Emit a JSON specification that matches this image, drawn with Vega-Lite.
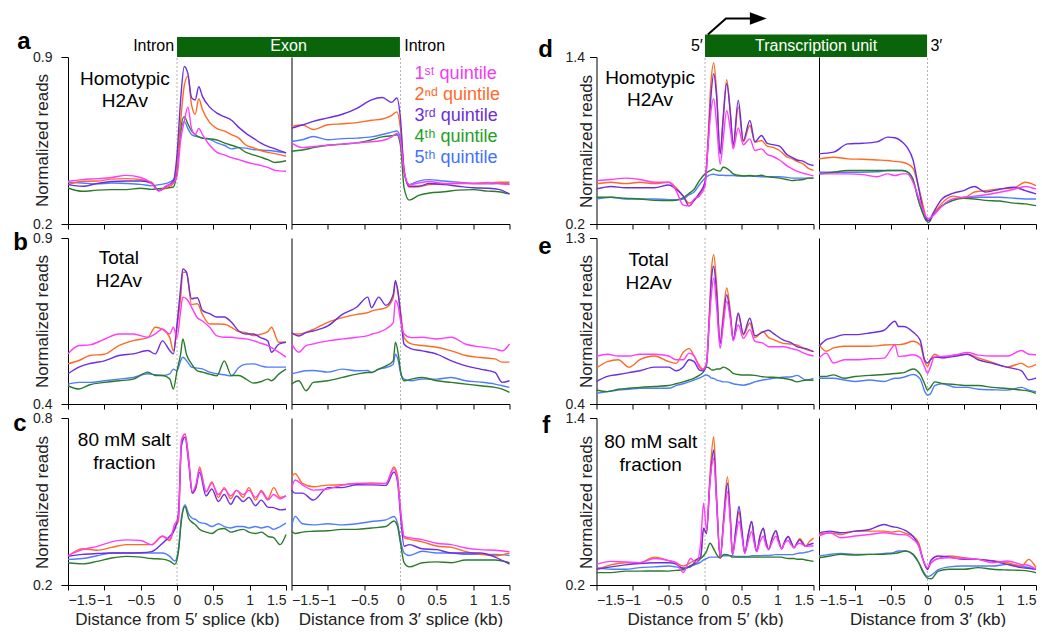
{
"$schema":"https://vega.github.io/schema/vega-lite/v6.json",
"background":"white",
"autosize":{"type":"pad"},
"padding":{"left":13,"top":12,"right":0,"bottom":0},
"config":{"view":{"stroke":null},"font":"Liberation Sans","axis":{"domainColor":"#000","tickColor":"#000","labelColor":"#222","titleColor":"#222","labelFontSize":14,"titleFontSize":17,"titleFontWeight":"normal","grid":false}},
"bounds":"flush","align":"each","columns":5,"spacing":{"row":14,"column":5.5},
"concat":[
{"width":218,"height":167,
"encoding":{"x":{"field":"x","type":"quantitative","scale":{"domain":[-1.5,1.5],"nice":false,"zero":false},"axis":{"values":[-1.5,-1,-0.5,0,0.5,1,1.5],"labels":false,"title":null,"tickSize":5}},
"y":{"field":"y","type":"quantitative","scale":{"domain":[0.2,0.9],"nice":false,"zero":false},"axis":{"values":[0.2,0.9],"format":".1f","tickSize":7,"labelPadding":9,"title":"Normalized reads","titleX":-26,"titleY":83,"titleAngle":-90,"titleBaseline":"middle","titleAlign":"center"}}},
"layer":[
{"data":{"values":[{"x":0,"y":0.2,"y2":0.9}]},"mark":{"type":"rule","color":"#b4b4b4","strokeDash":[2,2],"strokeWidth":1},"encoding":{"y2":{"field":"y2"}}},
{"data":{"name":"aL"},"transform":[{"fold":["b","g","o","p","m"],"as":["q","y"]}],"mark":{"type":"line","strokeWidth":1.4,"interpolate":"monotone"},"encoding":{"color":{"field":"q","type":"nominal","scale":{"domain":["m","o","p","g","b","m2","o2","p2","g2","b2"],"range":["#FF3CFF","#FF6A22","#6C2EE0","#2B7B2B","#4F7DFF","#F23CF2","#FF6A2A","#6A30D8","#22A022","#3F70FF"]},"legend":null}}},
{"data":{"values":[{"x":0,"x2":3.068,"y":0.9,"y2":0.984}]},"mark":{"type":"rect","color":"#0A650A","clip":false},"encoding":{"x2":{"field":"x2"},"y2":{"field":"y2"}}},
{"data":{"values":[{"x":1.535,"y":0.925,"t":"Exon"}]},"mark":{"type":"text","color":"white","fontSize":16,"align":"center","baseline":"alphabetic","clip":false},"encoding":{"text":{"field":"t"}}},
{"data":{"values":[{"x":-0.04,"y":0.925,"t":"Intron"}]},"mark":{"type":"text","color":"black","fontSize":16,"align":"right","baseline":"alphabetic","clip":false},"encoding":{"text":{"field":"t"}}},
{"data":{"values":[{"x":3.127,"y":0.925,"t":"Intron"}]},"mark":{"type":"text","color":"black","fontSize":16,"align":"left","baseline":"alphabetic","clip":false},"encoding":{"text":{"field":"t"}}},
{"data":{"values":[{"x":-2.197,"y":0.932,"t":"a"}]},"mark":{"type":"text","color":"black","fontSize":24,"fontWeight":"bold","align":"left","baseline":"alphabetic","clip":false},"encoding":{"text":{"field":"t"}}},
{"data":{"values":[{"x":-0.718,"y":0.784,"t":"Homotypic\nH2Av"}]},"mark":{"type":"text","color":"black","fontSize":19,"align":"center","baseline":"alphabetic","lineBreak":"\n","lineHeight":22,"clip":false},"encoding":{"text":{"field":"t"}}}
]},
{"width":218,"height":167,
"encoding":{"x":{"field":"x","type":"quantitative","scale":{"domain":[-1.5,1.5],"nice":false,"zero":false},"axis":{"values":[-1.5,-1,-0.5,0,0.5,1,1.5],"labels":false,"title":null,"tickSize":5}},
"y":{"field":"y","type":"quantitative","scale":{"domain":[0.2,0.9],"nice":false,"zero":false},"axis":{"labels":false,"ticks":false,"title":null}}},
"layer":[
{"data":{"values":[{"x":0,"y":0.2,"y2":0.9}]},"mark":{"type":"rule","color":"#b4b4b4","strokeDash":[2,2],"strokeWidth":1},"encoding":{"y2":{"field":"y2"}}},
{"data":{"name":"aR"},"transform":[{"fold":["b","g","o","p","m"],"as":["q","y"]}],"mark":{"type":"line","strokeWidth":1.4,"interpolate":"monotone"},"encoding":{"color":{"field":"q","type":"nominal","scale":{"domain":["m","o","p","g","b","m2","o2","p2","g2","b2"],"range":["#FF3CFF","#FF6A22","#6C2EE0","#2B7B2B","#4F7DFF","#F23CF2","#FF6A2A","#6A30D8","#22A022","#3F70FF"]},"legend":null}}},
{"data":{"values":[{"x":0.193,"y":0.809,"t":"1ˢᵗ quintile","q":"m2"},{"x":0.193,"y":0.721,"t":"2ⁿᵈ quintile","q":"o2"},{"x":0.193,"y":0.63,"t":"3ʳᵈ quintile","q":"p2"},{"x":0.193,"y":0.544,"t":"4ᵗʰ quintile","q":"g2"},{"x":0.193,"y":0.456,"t":"5ᵗʰ quintile","q":"b2"}]},"mark":{"type":"text","fontSize":18,"align":"left","baseline":"alphabetic","clip":false},"encoding":{"text":{"field":"t"},"color":{"field":"q","type":"nominal","scale":{"domain":["m","o","p","g","b","m2","o2","p2","g2","b2"],"range":["#FF3CFF","#FF6A22","#6C2EE0","#2B7B2B","#4F7DFF","#F23CF2","#FF6A2A","#6A30D8","#22A022","#3F70FF"]},"legend":null}}}
]},
{"width":75.8,"height":10,"data":{"values":[{"x":0}]},"mark":{"type":"point","opacity":0},"encoding":{"x":{"field":"x","type":"quantitative","axis":null}}},
{"width":217,"height":167,
"encoding":{"x":{"field":"x","type":"quantitative","scale":{"domain":[-1.5,1.5],"nice":false,"zero":false},"axis":{"values":[-1.5,-1,-0.5,0,0.5,1,1.5],"labels":false,"title":null,"tickSize":5}},
"y":{"field":"y","type":"quantitative","scale":{"domain":[0.2,1.4],"nice":false,"zero":false},"axis":{"values":[0.2,1.4],"format":".1f","tickSize":7,"labelPadding":5,"title":"Normalized reads","titleX":-10.5,"titleY":84,"titleAngle":-90,"titleBaseline":"middle","titleAlign":"center"}}},
"layer":[
{"data":{"values":[{"x":0,"y":0.2,"y2":1.4}]},"mark":{"type":"rule","color":"#b4b4b4","strokeDash":[2,2],"strokeWidth":1},"encoding":{"y2":{"field":"y2"}}},
{"data":{"name":"dL"},"transform":[{"fold":["b","g","o","p","m"],"as":["q","y"]}],"mark":{"type":"line","strokeWidth":1.4,"interpolate":"monotone"},"encoding":{"color":{"field":"q","type":"nominal","scale":{"domain":["m","o","p","g","b","m2","o2","p2","g2","b2"],"range":["#FF3CFF","#FF6A22","#6C2EE0","#2B7B2B","#4F7DFF","#F23CF2","#FF6A2A","#6A30D8","#22A022","#3F70FF"]},"legend":null}}},
{"data":{"values":[{"x":0,"x2":3.07,"y":1.4,"y2":1.561}]},"mark":{"type":"rect","color":"#0A650A","clip":false},"encoding":{"x2":{"field":"x2"},"y2":{"field":"y2"}}},
{"data":{"values":[{"x":1.535,"y":1.445,"t":"Transcription unit"}]},"mark":{"type":"text","color":"white","fontSize":16,"align":"center","baseline":"alphabetic","clip":false},"encoding":{"text":{"field":"t"}}},
{"data":{"values":[{"x":-0.03,"y":1.445,"t":"5′"}]},"mark":{"type":"text","color":"black","fontSize":16,"align":"right","baseline":"alphabetic","clip":false},"encoding":{"text":{"field":"t"}}},
{"data":{"values":[{"x":3.117,"y":1.445,"t":"3′"}]},"mark":{"type":"text","color":"black","fontSize":16,"align":"left","baseline":"alphabetic","clip":false},"encoding":{"text":{"field":"t"}}},
{"data":{"values":[{"x":0.04,"y":1.561,"o":1},{"x":0.29,"y":1.677,"o":2},{"x":0.63,"y":1.677,"o":3}]},"mark":{"type":"line","color":"black","strokeWidth":2,"clip":false},"encoding":{"order":{"field":"o","type":"quantitative"}}},
{"data":{"values":[{"x":0.736,"y":1.677}]},"mark":{"type":"point","shape":"M-1,-0.74L1,0L-1,0.74Z","size":279,"filled":true,"color":"black","opacity":1,"clip":false},"encoding":{}},
{"data":{"values":[{"x":-2.307,"y":1.398,"t":"d"}]},"mark":{"type":"text","color":"black","fontSize":24,"fontWeight":"bold","align":"left","baseline":"alphabetic","clip":false},"encoding":{"text":{"field":"t"}}},
{"data":{"values":[{"x":-0.76,"y":1.208,"t":"Homotypic\nH2Av"}]},"mark":{"type":"text","color":"black","fontSize":19,"align":"center","baseline":"alphabetic","lineBreak":"\n","lineHeight":22,"clip":false},"encoding":{"text":{"field":"t"}}}
]},
{"width":217,"height":167,
"encoding":{"x":{"field":"x","type":"quantitative","scale":{"domain":[-1.5,1.5],"nice":false,"zero":false},"axis":{"values":[-1.5,-1,-0.5,0,0.5,1,1.5],"labels":false,"title":null,"tickSize":5}},
"y":{"field":"y","type":"quantitative","scale":{"domain":[0.2,1.4],"nice":false,"zero":false},"axis":{"labels":false,"ticks":false,"title":null}}},
"layer":[
{"data":{"values":[{"x":0,"y":0.2,"y2":1.4}]},"mark":{"type":"rule","color":"#b4b4b4","strokeDash":[2,2],"strokeWidth":1},"encoding":{"y2":{"field":"y2"}}},
{"data":{"name":"dR"},"transform":[{"fold":["b","g","o","p","m"],"as":["q","y"]}],"mark":{"type":"line","strokeWidth":1.4,"interpolate":"monotone"},"encoding":{"color":{"field":"q","type":"nominal","scale":{"domain":["m","o","p","g","b","m2","o2","p2","g2","b2"],"range":["#FF3CFF","#FF6A22","#6C2EE0","#2B7B2B","#4F7DFF","#F23CF2","#FF6A2A","#6A30D8","#22A022","#3F70FF"]},"legend":null}}}
]},
{"width":218,"height":166,
"encoding":{"x":{"field":"x","type":"quantitative","scale":{"domain":[-1.5,1.5],"nice":false,"zero":false},"axis":{"values":[-1.5,-1,-0.5,0,0.5,1,1.5],"labels":false,"title":null,"tickSize":5}},
"y":{"field":"y","type":"quantitative","scale":{"domain":[0.4,0.9],"nice":false,"zero":false},"axis":{"values":[0.4,0.9],"format":".1f","tickSize":7,"labelPadding":9,"title":"Normalized reads","titleX":-26,"titleY":83,"titleAngle":-90,"titleBaseline":"middle","titleAlign":"center"}}},
"layer":[
{"data":{"values":[{"x":0,"y":0.4,"y2":0.9}]},"mark":{"type":"rule","color":"#b4b4b4","strokeDash":[2,2],"strokeWidth":1},"encoding":{"y2":{"field":"y2"}}},
{"data":{"name":"bL"},"transform":[{"fold":["b","g","o","p","m"],"as":["q","y"]}],"mark":{"type":"line","strokeWidth":1.4,"interpolate":"monotone"},"encoding":{"color":{"field":"q","type":"nominal","scale":{"domain":["m","o","p","g","b","m2","o2","p2","g2","b2"],"range":["#FF3CFF","#FF6A22","#6C2EE0","#2B7B2B","#4F7DFF","#F23CF2","#FF6A2A","#6A30D8","#22A022","#3F70FF"]},"legend":null}}},
{"data":{"values":[{"x":-2.252,"y":0.864,"t":"b"}]},"mark":{"type":"text","color":"black","fontSize":24,"fontWeight":"bold","align":"left","baseline":"alphabetic","clip":false},"encoding":{"text":{"field":"t"}}},
{"data":{"values":[{"x":-0.8,"y":0.821,"t":"Total\nH2Av"}]},"mark":{"type":"text","color":"black","fontSize":19,"align":"center","baseline":"alphabetic","lineBreak":"\n","lineHeight":23,"clip":false},"encoding":{"text":{"field":"t"}}}
]},
{"width":218,"height":166,
"encoding":{"x":{"field":"x","type":"quantitative","scale":{"domain":[-1.5,1.5],"nice":false,"zero":false},"axis":{"values":[-1.5,-1,-0.5,0,0.5,1,1.5],"labels":false,"title":null,"tickSize":5}},
"y":{"field":"y","type":"quantitative","scale":{"domain":[0.4,0.9],"nice":false,"zero":false},"axis":{"labels":false,"ticks":false,"title":null}}},
"layer":[
{"data":{"values":[{"x":0,"y":0.4,"y2":0.9}]},"mark":{"type":"rule","color":"#b4b4b4","strokeDash":[2,2],"strokeWidth":1},"encoding":{"y2":{"field":"y2"}}},
{"data":{"name":"bR"},"transform":[{"fold":["b","g","o","p","m"],"as":["q","y"]}],"mark":{"type":"line","strokeWidth":1.4,"interpolate":"monotone"},"encoding":{"color":{"field":"q","type":"nominal","scale":{"domain":["m","o","p","g","b","m2","o2","p2","g2","b2"],"range":["#FF3CFF","#FF6A22","#6C2EE0","#2B7B2B","#4F7DFF","#F23CF2","#FF6A2A","#6A30D8","#22A022","#3F70FF"]},"legend":null}}}
]},
{"width":75.8,"height":10,"data":{"values":[{"x":0}]},"mark":{"type":"point","opacity":0},"encoding":{"x":{"field":"x","type":"quantitative","axis":null}}},
{"width":217,"height":166,
"encoding":{"x":{"field":"x","type":"quantitative","scale":{"domain":[-1.5,1.5],"nice":false,"zero":false},"axis":{"values":[-1.5,-1,-0.5,0,0.5,1,1.5],"labels":false,"title":null,"tickSize":5}},
"y":{"field":"y","type":"quantitative","scale":{"domain":[0.4,1.3],"nice":false,"zero":false},"axis":{"values":[0.4,1.3],"format":".1f","tickSize":7,"labelPadding":5,"title":"Normalized reads","titleX":-10.5,"titleY":83,"titleAngle":-90,"titleBaseline":"middle","titleAlign":"center"}}},
"layer":[
{"data":{"values":[{"x":0,"y":0.4,"y2":1.3}]},"mark":{"type":"rule","color":"#b4b4b4","strokeDash":[2,2],"strokeWidth":1},"encoding":{"y2":{"field":"y2"}}},
{"data":{"name":"eL"},"transform":[{"fold":["b","g","o","p","m"],"as":["q","y"]}],"mark":{"type":"line","strokeWidth":1.4,"interpolate":"monotone"},"encoding":{"color":{"field":"q","type":"nominal","scale":{"domain":["m","o","p","g","b","m2","o2","p2","g2","b2"],"range":["#FF3CFF","#FF6A22","#6C2EE0","#2B7B2B","#4F7DFF","#F23CF2","#FF6A2A","#6A30D8","#22A022","#3F70FF"]},"legend":null}}},
{"data":{"values":[{"x":-2.307,"y":1.214,"t":"e"}]},"mark":{"type":"text","color":"black","fontSize":24,"fontWeight":"bold","align":"left","baseline":"alphabetic","clip":false},"encoding":{"text":{"field":"t"}}},
{"data":{"values":[{"x":-0.78,"y":1.149,"t":"Total\nH2Av"}]},"mark":{"type":"text","color":"black","fontSize":19,"align":"center","baseline":"alphabetic","lineBreak":"\n","lineHeight":23,"clip":false},"encoding":{"text":{"field":"t"}}}
]},
{"width":217,"height":166,
"encoding":{"x":{"field":"x","type":"quantitative","scale":{"domain":[-1.5,1.5],"nice":false,"zero":false},"axis":{"values":[-1.5,-1,-0.5,0,0.5,1,1.5],"labels":false,"title":null,"tickSize":5}},
"y":{"field":"y","type":"quantitative","scale":{"domain":[0.4,1.3],"nice":false,"zero":false},"axis":{"labels":false,"ticks":false,"title":null}}},
"layer":[
{"data":{"values":[{"x":0,"y":0.4,"y2":1.3}]},"mark":{"type":"rule","color":"#b4b4b4","strokeDash":[2,2],"strokeWidth":1},"encoding":{"y2":{"field":"y2"}}},
{"data":{"name":"eR"},"transform":[{"fold":["b","g","o","p","m"],"as":["q","y"]}],"mark":{"type":"line","strokeWidth":1.4,"interpolate":"monotone"},"encoding":{"color":{"field":"q","type":"nominal","scale":{"domain":["m","o","p","g","b","m2","o2","p2","g2","b2"],"range":["#FF3CFF","#FF6A22","#6C2EE0","#2B7B2B","#4F7DFF","#F23CF2","#FF6A2A","#6A30D8","#22A022","#3F70FF"]},"legend":null}}}
]},
{"width":218,"height":167,
"encoding":{"x":{"field":"x","type":"quantitative","scale":{"domain":[-1.5,1.5],"nice":false,"zero":false},"axis":{"values":[-1.5,-1,-0.5,0,0.5,1,1.5],"format":"~g","tickSize":5,"labelPadding":3,"labelOverlap":false,"title":"Distance from 5′ splice (kb)","titlePadding":4}},
"y":{"field":"y","type":"quantitative","scale":{"domain":[0.2,0.8],"nice":false,"zero":false},"axis":{"values":[0.2,0.8],"format":".1f","tickSize":7,"labelPadding":9,"title":"Normalized reads","titleX":-26,"titleY":84,"titleAngle":-90,"titleBaseline":"middle","titleAlign":"center"}}},
"layer":[
{"data":{"values":[{"x":0,"y":0.2,"y2":0.8}]},"mark":{"type":"rule","color":"#b4b4b4","strokeDash":[2,2],"strokeWidth":1},"encoding":{"y2":{"field":"y2"}}},
{"data":{"name":"cL"},"transform":[{"fold":["b","g","o","p","m"],"as":["q","y"]}],"mark":{"type":"line","strokeWidth":1.4,"interpolate":"monotone"},"encoding":{"color":{"field":"q","type":"nominal","scale":{"domain":["m","o","p","g","b","m2","o2","p2","g2","b2"],"range":["#FF3CFF","#FF6A22","#6C2EE0","#2B7B2B","#4F7DFF","#F23CF2","#FF6A2A","#6A30D8","#22A022","#3F70FF"]},"legend":null}}},
{"data":{"values":[{"x":-2.252,"y":0.755,"t":"c"}]},"mark":{"type":"text","color":"black","fontSize":24,"fontWeight":"bold","align":"left","baseline":"alphabetic","clip":false},"encoding":{"text":{"field":"t"}}},
{"data":{"values":[{"x":-0.725,"y":0.701,"t":"80 mM salt\nfraction"}]},"mark":{"type":"text","color":"black","fontSize":19,"align":"center","baseline":"alphabetic","lineBreak":"\n","lineHeight":23,"clip":false},"encoding":{"text":{"field":"t"}}}
]},
{"width":218,"height":167,
"encoding":{"x":{"field":"x","type":"quantitative","scale":{"domain":[-1.5,1.5],"nice":false,"zero":false},"axis":{"values":[-1.5,-1,-0.5,0,0.5,1,1.5],"format":"~g","tickSize":5,"labelPadding":3,"labelOverlap":false,"title":"Distance from 3′ splice (kb)","titlePadding":4}},
"y":{"field":"y","type":"quantitative","scale":{"domain":[0.2,0.8],"nice":false,"zero":false},"axis":{"labels":false,"ticks":false,"title":null}}},
"layer":[
{"data":{"values":[{"x":0,"y":0.2,"y2":0.8}]},"mark":{"type":"rule","color":"#b4b4b4","strokeDash":[2,2],"strokeWidth":1},"encoding":{"y2":{"field":"y2"}}},
{"data":{"name":"cR"},"transform":[{"fold":["b","g","o","p","m"],"as":["q","y"]}],"mark":{"type":"line","strokeWidth":1.4,"interpolate":"monotone"},"encoding":{"color":{"field":"q","type":"nominal","scale":{"domain":["m","o","p","g","b","m2","o2","p2","g2","b2"],"range":["#FF3CFF","#FF6A22","#6C2EE0","#2B7B2B","#4F7DFF","#F23CF2","#FF6A2A","#6A30D8","#22A022","#3F70FF"]},"legend":null}}}
]},
{"width":75.8,"height":10,"data":{"values":[{"x":0}]},"mark":{"type":"point","opacity":0},"encoding":{"x":{"field":"x","type":"quantitative","axis":null}}},
{"width":217,"height":167,
"encoding":{"x":{"field":"x","type":"quantitative","scale":{"domain":[-1.5,1.5],"nice":false,"zero":false},"axis":{"values":[-1.5,-1,-0.5,0,0.5,1,1.5],"format":"~g","tickSize":5,"labelPadding":3,"labelOverlap":false,"title":"Distance from 5′ (kb)","titlePadding":4}},
"y":{"field":"y","type":"quantitative","scale":{"domain":[0.2,1.4],"nice":false,"zero":false},"axis":{"values":[0.2,1.4],"format":".1f","tickSize":7,"labelPadding":5,"title":"Normalized reads","titleX":-10.5,"titleY":84,"titleAngle":-90,"titleBaseline":"middle","titleAlign":"center"}}},
"layer":[
{"data":{"values":[{"x":0,"y":0.2,"y2":1.4}]},"mark":{"type":"rule","color":"#b4b4b4","strokeDash":[2,2],"strokeWidth":1},"encoding":{"y2":{"field":"y2"}}},
{"data":{"name":"fL"},"transform":[{"fold":["b","g","o","p","m"],"as":["q","y"]}],"mark":{"type":"line","strokeWidth":1.4,"interpolate":"monotone"},"encoding":{"color":{"field":"q","type":"nominal","scale":{"domain":["m","o","p","g","b","m2","o2","p2","g2","b2"],"range":["#FF3CFF","#FF6A22","#6C2EE0","#2B7B2B","#4F7DFF","#F23CF2","#FF6A2A","#6A30D8","#22A022","#3F70FF"]},"legend":null}}},
{"data":{"values":[{"x":-2.251,"y":1.295,"t":"f"}]},"mark":{"type":"text","color":"black","fontSize":24,"fontWeight":"bold","align":"left","baseline":"alphabetic","clip":false},"encoding":{"text":{"field":"t"}}},
{"data":{"values":[{"x":-0.75,"y":1.187,"t":"80 mM salt\nfraction"}]},"mark":{"type":"text","color":"black","fontSize":19,"align":"center","baseline":"alphabetic","lineBreak":"\n","lineHeight":23,"clip":false},"encoding":{"text":{"field":"t"}}}
]},
{"width":217,"height":167,
"encoding":{"x":{"field":"x","type":"quantitative","scale":{"domain":[-1.5,1.5],"nice":false,"zero":false},"axis":{"values":[-1.5,-1,-0.5,0,0.5,1,1.5],"format":"~g","tickSize":5,"labelPadding":3,"labelOverlap":false,"title":"Distance from 3′ (kb)","titlePadding":4}},
"y":{"field":"y","type":"quantitative","scale":{"domain":[0.2,1.4],"nice":false,"zero":false},"axis":{"labels":false,"ticks":false,"title":null}}},
"layer":[
{"data":{"values":[{"x":0,"y":0.2,"y2":1.4}]},"mark":{"type":"rule","color":"#b4b4b4","strokeDash":[2,2],"strokeWidth":1},"encoding":{"y2":{"field":"y2"}}},
{"data":{"name":"fR"},"transform":[{"fold":["b","g","o","p","m"],"as":["q","y"]}],"mark":{"type":"line","strokeWidth":1.4,"interpolate":"monotone"},"encoding":{"color":{"field":"q","type":"nominal","scale":{"domain":["m","o","p","g","b","m2","o2","p2","g2","b2"],"range":["#FF3CFF","#FF6A22","#6C2EE0","#2B7B2B","#4F7DFF","#F23CF2","#FF6A2A","#6A30D8","#22A022","#3F70FF"]},"legend":null}}}
]}
],
"datasets":{
"aL":[{"x":-1.5,"m":0.379,"o":0.365,"p":0.365,"g":0.351,"b":0.375},{"x":-1.3,"m":0.386,"o":0.379,"p":0.358,"g":0.337,"b":0.372},{"x":-1.1,"m":0.39,"o":0.38,"p":0.37,"g":0.342,"b":0.368},{"x":-0.9,"m":0.395,"o":0.388,"p":0.378,"g":0.344,"b":0.372},{"x":-0.7,"m":0.404,"o":0.39,"p":0.38,"g":0.344,"b":0.37},{"x":-0.5,"m":0.395,"o":0.386,"p":0.38,"g":0.35,"b":0.366},{"x":-0.35,"m":0.37,"o":0.375,"p":0.37,"g":0.345,"b":0.36},{"x":-0.25,"m":0.338,"o":0.34,"p":0.34,"g":0.348,"b":0.365},{"x":-0.15,"m":0.36,"o":0.352,"p":0.358,"g":0.35,"b":0.37},{"x":-0.05,"m":0.372,"o":0.37,"p":0.38,"g":0.355,"b":0.385},{"x":0,"m":0.4,"o":0.45,"p":0.49,"g":0.42,"b":0.44},{"x":0.05,"m":0.55,"o":0.63,"p":0.72,"g":0.6,"b":0.58},{"x":0.1,"m":0.63,"o":0.78,"p":0.86,"g":0.65,"b":0.63},{"x":0.15,"m":0.69,"o":0.82,"p":0.83,"g":0.62,"b":0.6},{"x":0.2,"m":0.6,"o":0.7,"p":0.73,"g":0.59,"b":0.575},{"x":0.25,"m":0.575,"o":0.66,"p":0.72,"g":0.575,"b":0.568},{"x":0.3,"m":0.6,"o":0.725,"p":0.775,"g":0.565,"b":0.565},{"x":0.35,"m":0.575,"o":0.68,"p":0.735,"g":0.56,"b":0.56},{"x":0.45,"m":0.53,"o":0.625,"p":0.69,"g":0.557,"b":0.555},{"x":0.55,"m":0.5,"o":0.6,"p":0.665,"g":0.552,"b":0.54},{"x":0.65,"m":0.49,"o":0.59,"p":0.65,"g":0.54,"b":0.53},{"x":0.75,"m":0.478,"o":0.575,"p":0.635,"g":0.53,"b":0.515},{"x":0.85,"m":0.47,"o":0.56,"p":0.605,"g":0.52,"b":0.52},{"x":0.95,"m":0.46,"o":0.53,"p":0.58,"g":0.5,"b":0.518},{"x":1.05,"m":0.452,"o":0.52,"p":0.56,"g":0.49,"b":0.512},{"x":1.15,"m":0.446,"o":0.508,"p":0.54,"g":0.48,"b":0.51},{"x":1.25,"m":0.437,"o":0.5,"p":0.525,"g":0.47,"b":0.508},{"x":1.35,"m":0.425,"o":0.495,"p":0.515,"g":0.458,"b":0.505},{"x":1.5,"m":0.421,"o":0.484,"p":0.498,"g":0.465,"b":0.498}],
"aR":[{"x":-1.5,"m":0.54,"o":0.609,"p":0.602,"g":0.505,"b":0.546},{"x":-1.35,"m":0.52,"o":0.615,"p":0.615,"g":0.51,"b":0.553},{"x":-1.2,"m":0.525,"o":0.596,"p":0.63,"g":0.52,"b":0.567},{"x":-1,"m":0.53,"o":0.616,"p":0.645,"g":0.53,"b":0.553},{"x":-0.8,"m":0.535,"o":0.62,"p":0.66,"g":0.535,"b":0.558},{"x":-0.6,"m":0.54,"o":0.625,"p":0.685,"g":0.54,"b":0.56},{"x":-0.4,"m":0.545,"o":0.635,"p":0.72,"g":0.553,"b":0.565},{"x":-0.25,"m":0.55,"o":0.64,"p":0.73,"g":0.565,"b":0.575},{"x":-0.12,"m":0.565,"o":0.655,"p":0.71,"g":0.57,"b":0.585},{"x":-0.05,"m":0.58,"o":0.67,"p":0.728,"g":0.574,"b":0.59},{"x":0,"m":0.55,"o":0.6,"p":0.64,"g":0.53,"b":0.56},{"x":0.05,"m":0.42,"o":0.43,"p":0.42,"g":0.35,"b":0.42},{"x":0.12,"m":0.365,"o":0.355,"p":0.358,"g":0.3,"b":0.365},{"x":0.25,"m":0.372,"o":0.356,"p":0.358,"g":0.32,"b":0.38},{"x":0.4,"m":0.378,"o":0.365,"p":0.37,"g":0.33,"b":0.386},{"x":0.6,"m":0.37,"o":0.368,"p":0.365,"g":0.335,"b":0.38},{"x":0.8,"m":0.372,"o":0.37,"p":0.358,"g":0.342,"b":0.375},{"x":1,"m":0.37,"o":0.37,"p":0.352,"g":0.344,"b":0.37},{"x":1.2,"m":0.374,"o":0.372,"p":0.35,"g":0.338,"b":0.368},{"x":1.35,"m":0.37,"o":0.375,"p":0.345,"g":0.335,"b":0.37},{"x":1.5,"m":0.365,"o":0.375,"p":0.326,"g":0.326,"b":0.368}],
"bL":[{"x":-1.5,"m":0.551,"o":0.521,"p":0.491,"g":0.455,"b":0.46},{"x":-1.35,"m":0.576,"o":0.531,"p":0.511,"g":0.445,"b":0.465},{"x":-1.2,"m":0.578,"o":0.546,"p":0.522,"g":0.458,"b":0.465},{"x":-1,"m":0.595,"o":0.55,"p":0.53,"g":0.465,"b":0.47},{"x":-0.8,"m":0.611,"o":0.576,"p":0.546,"g":0.47,"b":0.475},{"x":-0.6,"m":0.611,"o":0.591,"p":0.551,"g":0.475,"b":0.48},{"x":-0.4,"m":0.601,"o":0.6,"p":0.561,"g":0.496,"b":0.491},{"x":-0.3,"m":0.611,"o":0.631,"p":0.551,"g":0.486,"b":0.488},{"x":-0.2,"m":0.626,"o":0.625,"p":0.59,"g":0.486,"b":0.486},{"x":-0.1,"m":0.611,"o":0.6,"p":0.561,"g":0.475,"b":0.491},{"x":-0.05,"m":0.631,"o":0.56,"p":0.551,"g":0.445,"b":0.505},{"x":0,"m":0.6,"o":0.631,"p":0.64,"g":0.5,"b":0.5},{"x":0.05,"m":0.68,"o":0.72,"p":0.75,"g":0.55,"b":0.53},{"x":0.08,"m":0.722,"o":0.797,"p":0.807,"g":0.596,"b":0.541},{"x":0.13,"m":0.717,"o":0.797,"p":0.797,"g":0.55,"b":0.531},{"x":0.2,"m":0.692,"o":0.7,"p":0.717,"g":0.521,"b":0.511},{"x":0.28,"m":0.66,"o":0.702,"p":0.72,"g":0.5,"b":0.508},{"x":0.35,"m":0.65,"o":0.67,"p":0.682,"g":0.496,"b":0.506},{"x":0.45,"m":0.631,"o":0.641,"p":0.672,"g":0.49,"b":0.496},{"x":0.55,"m":0.605,"o":0.641,"p":0.662,"g":0.485,"b":0.491},{"x":0.65,"m":0.601,"o":0.64,"p":0.662,"g":0.53,"b":0.488},{"x":0.75,"m":0.601,"o":0.631,"p":0.646,"g":0.486,"b":0.485},{"x":0.85,"m":0.598,"o":0.618,"p":0.62,"g":0.486,"b":0.51},{"x":0.95,"m":0.596,"o":0.615,"p":0.611,"g":0.475,"b":0.52},{"x":1.05,"m":0.591,"o":0.606,"p":0.611,"g":0.463,"b":0.521},{"x":1.15,"m":0.583,"o":0.61,"p":0.6,"g":0.467,"b":0.515},{"x":1.25,"m":0.576,"o":0.618,"p":0.59,"g":0.475,"b":0.511},{"x":1.3,"m":0.57,"o":0.631,"p":0.556,"g":0.47,"b":0.511},{"x":1.4,"m":0.556,"o":0.586,"p":0.58,"g":0.49,"b":0.511},{"x":1.5,"m":0.541,"o":0.586,"p":0.586,"g":0.505,"b":0.511}],
"bR":[{"x":-1.5,"m":0.581,"o":0.611,"p":0.615,"g":0.46,"b":0.491},{"x":-1.4,"m":0.556,"o":0.611,"p":0.605,"g":0.47,"b":0.496},{"x":-1.3,"m":0.576,"o":0.616,"p":0.615,"g":0.44,"b":0.5},{"x":-1.2,"m":0.581,"o":0.625,"p":0.62,"g":0.465,"b":0.501},{"x":-1,"m":0.59,"o":0.646,"p":0.635,"g":0.47,"b":0.496},{"x":-0.8,"m":0.596,"o":0.66,"p":0.67,"g":0.48,"b":0.505},{"x":-0.6,"m":0.601,"o":0.67,"p":0.692,"g":0.49,"b":0.5},{"x":-0.45,"m":0.606,"o":0.675,"p":0.722,"g":0.495,"b":0.501},{"x":-0.4,"m":0.61,"o":0.68,"p":0.69,"g":0.495,"b":0.495},{"x":-0.3,"m":0.616,"o":0.685,"p":0.722,"g":0.505,"b":0.505},{"x":-0.2,"m":0.626,"o":0.69,"p":0.697,"g":0.515,"b":0.51},{"x":-0.1,"m":0.645,"o":0.72,"p":0.73,"g":0.53,"b":0.52},{"x":-0.07,"m":0.712,"o":0.767,"p":0.772,"g":0.586,"b":0.55},{"x":-0.03,"m":0.692,"o":0.73,"p":0.73,"g":0.55,"b":0.53},{"x":0,"m":0.651,"o":0.68,"p":0.67,"g":0.5,"b":0.495},{"x":0.05,"m":0.611,"o":0.6,"p":0.58,"g":0.47,"b":0.475},{"x":0.15,"m":0.6,"o":0.581,"p":0.566,"g":0.475,"b":0.47},{"x":0.3,"m":0.601,"o":0.576,"p":0.56,"g":0.48,"b":0.475},{"x":0.5,"m":0.596,"o":0.571,"p":0.55,"g":0.47,"b":0.475},{"x":0.7,"m":0.601,"o":0.56,"p":0.53,"g":0.465,"b":0.48},{"x":0.9,"m":0.58,"o":0.546,"p":0.515,"g":0.46,"b":0.47},{"x":1.1,"m":0.572,"o":0.54,"p":0.505,"g":0.455,"b":0.466},{"x":1.3,"m":0.566,"o":0.536,"p":0.495,"g":0.45,"b":0.46},{"x":1.4,"m":0.56,"o":0.526,"p":0.465,"g":0.445,"b":0.455},{"x":1.5,"m":0.581,"o":0.526,"p":0.47,"g":0.435,"b":0.45}],
"cL":[{"x":-1.5,"m":0.306,"o":0.303,"p":0.303,"g":0.28,"b":0.292},{"x":-1.3,"m":0.327,"o":0.33,"p":0.31,"g":0.276,"b":0.295},{"x":-1.1,"m":0.339,"o":0.325,"p":0.313,"g":0.285,"b":0.305},{"x":-0.9,"m":0.355,"o":0.335,"p":0.315,"g":0.297,"b":0.315},{"x":-0.7,"m":0.362,"o":0.345,"p":0.315,"g":0.303,"b":0.315},{"x":-0.5,"m":0.36,"o":0.345,"p":0.316,"g":0.3,"b":0.315},{"x":-0.35,"m":0.345,"o":0.345,"p":0.32,"g":0.295,"b":0.315},{"x":-0.2,"m":0.375,"o":0.375,"p":0.35,"g":0.293,"b":0.315},{"x":-0.1,"m":0.365,"o":0.36,"p":0.375,"g":0.286,"b":0.303},{"x":-0.03,"m":0.42,"o":0.41,"p":0.4,"g":0.274,"b":0.286},{"x":0.02,"m":0.44,"o":0.43,"p":0.46,"g":0.32,"b":0.33},{"x":0.06,"m":0.72,"o":0.7,"p":0.7,"g":0.43,"b":0.44},{"x":0.11,"m":0.743,"o":0.743,"p":0.731,"g":0.482,"b":0.488},{"x":0.16,"m":0.65,"o":0.66,"p":0.64,"g":0.44,"b":0.455},{"x":0.21,"m":0.535,"o":0.53,"p":0.53,"g":0.425,"b":0.44},{"x":0.26,"m":0.56,"o":0.55,"p":0.55,"g":0.415,"b":0.435},{"x":0.31,"m":0.615,"o":0.624,"p":0.605,"g":0.4,"b":0.425},{"x":0.4,"m":0.535,"o":0.535,"p":0.52,"g":0.39,"b":0.42},{"x":0.48,"m":0.565,"o":0.57,"p":0.545,"g":0.385,"b":0.41},{"x":0.57,"m":0.525,"o":0.515,"p":0.5,"g":0.4,"b":0.42},{"x":0.65,"m":0.545,"o":0.55,"p":0.525,"g":0.403,"b":0.41},{"x":0.74,"m":0.52,"o":0.51,"p":0.49,"g":0.39,"b":0.405},{"x":0.82,"m":0.54,"o":0.54,"p":0.52,"g":0.395,"b":0.41},{"x":0.91,"m":0.525,"o":0.515,"p":0.5,"g":0.4,"b":0.41},{"x":0.99,"m":0.54,"o":0.55,"p":0.515,"g":0.39,"b":0.405},{"x":1.08,"m":0.515,"o":0.505,"p":0.485,"g":0.385,"b":0.41},{"x":1.16,"m":0.535,"o":0.54,"p":0.505,"g":0.39,"b":0.405},{"x":1.25,"m":0.505,"o":0.51,"p":0.48,"g":0.375,"b":0.41},{"x":1.33,"m":0.525,"o":0.55,"p":0.478,"g":0.37,"b":0.4},{"x":1.42,"m":0.51,"o":0.515,"p":0.47,"g":0.345,"b":0.41},{"x":1.5,"m":0.52,"o":0.52,"p":0.472,"g":0.381,"b":0.422}],
"cR":[{"x":-1.5,"m":0.547,"o":0.589,"p":0.541,"g":0.393,"b":0.41},{"x":-1.45,"m":0.577,"o":0.6,"p":0.53,"g":0.385,"b":0.446},{"x":-1.35,"m":0.56,"o":0.565,"p":0.53,"g":0.39,"b":0.42},{"x":-1.2,"m":0.541,"o":0.553,"p":0.505,"g":0.393,"b":0.416},{"x":-1,"m":0.545,"o":0.559,"p":0.55,"g":0.395,"b":0.42},{"x":-0.8,"m":0.559,"o":0.56,"p":0.55,"g":0.4,"b":0.416},{"x":-0.6,"m":0.565,"o":0.565,"p":0.56,"g":0.4,"b":0.42},{"x":-0.4,"m":0.563,"o":0.567,"p":0.56,"g":0.405,"b":0.428},{"x":-0.2,"m":0.565,"o":0.565,"p":0.558,"g":0.41,"b":0.434},{"x":-0.09,"m":0.618,"o":0.624,"p":0.606,"g":0.43,"b":0.446},{"x":-0.04,"m":0.575,"o":0.59,"p":0.57,"g":0.41,"b":0.42},{"x":0,"m":0.47,"o":0.47,"p":0.45,"g":0.35,"b":0.36},{"x":0.05,"m":0.375,"o":0.37,"p":0.339,"g":0.28,"b":0.315},{"x":0.12,"m":0.37,"o":0.365,"p":0.345,"g":0.265,"b":0.306},{"x":0.3,"m":0.363,"o":0.355,"p":0.33,"g":0.28,"b":0.321},{"x":0.5,"m":0.35,"o":0.34,"p":0.327,"g":0.283,"b":0.315},{"x":0.7,"m":0.345,"o":0.335,"p":0.315,"g":0.28,"b":0.315},{"x":0.9,"m":0.333,"o":0.32,"p":0.315,"g":0.29,"b":0.31},{"x":1.1,"m":0.327,"o":0.31,"p":0.315,"g":0.29,"b":0.31},{"x":1.3,"m":0.325,"o":0.305,"p":0.3,"g":0.29,"b":0.31},{"x":1.5,"m":0.32,"o":0.315,"p":0.275,"g":0.28,"b":0.306}],
"dL":[{"x":-1.5,"m":0.512,"o":0.488,"p":0.452,"g":0.392,"b":0.38},{"x":-1.3,"m":0.52,"o":0.5,"p":0.47,"g":0.392,"b":0.392},{"x":-1.1,"m":0.53,"o":0.49,"p":0.46,"g":0.385,"b":0.38},{"x":-0.9,"m":0.52,"o":0.5,"p":0.46,"g":0.38,"b":0.38},{"x":-0.7,"m":0.5,"o":0.49,"p":0.46,"g":0.37,"b":0.38},{"x":-0.5,"m":0.5,"o":0.5,"p":0.48,"g":0.368,"b":0.375},{"x":-0.4,"m":0.44,"o":0.46,"p":0.45,"g":0.37,"b":0.375},{"x":-0.3,"m":0.336,"o":0.4,"p":0.4,"g":0.39,"b":0.38},{"x":-0.22,"m":0.33,"o":0.35,"p":0.33,"g":0.42,"b":0.41},{"x":-0.15,"m":0.38,"o":0.37,"p":0.37,"g":0.45,"b":0.43},{"x":-0.08,"m":0.4,"o":0.41,"p":0.42,"g":0.51,"b":0.48},{"x":0,"m":0.47,"o":0.5,"p":0.5,"g":0.56,"b":0.53},{"x":0.04,"m":0.75,"o":0.8,"p":0.75,"g":0.575,"b":0.545},{"x":0.08,"m":1.0,"o":1.2,"p":1.1,"g":0.585,"b":0.555},{"x":0.12,"m":1.1,"o":1.357,"p":1.28,"g":0.596,"b":0.557},{"x":0.16,"m":0.92,"o":1.15,"p":1.12,"g":0.585,"b":0.553},{"x":0.21,"m":0.63,"o":0.704,"p":0.704,"g":0.58,"b":0.55},{"x":0.25,"m":0.8,"o":0.95,"p":0.95,"g":0.608,"b":0.55},{"x":0.3,"m":1.016,"o":1.237,"p":1.21,"g":0.6,"b":0.548},{"x":0.35,"m":0.88,"o":1.0,"p":1.0,"g":0.58,"b":0.548},{"x":0.39,"m":0.74,"o":0.752,"p":0.77,"g":0.56,"b":0.548},{"x":0.46,"m":0.891,"o":1.04,"p":1.088,"g":0.55,"b":0.545},{"x":0.53,"m":0.77,"o":0.79,"p":0.8,"g":0.545,"b":0.545},{"x":0.62,"m":0.812,"o":0.908,"p":0.944,"g":0.548,"b":0.545},{"x":0.69,"m":0.728,"o":0.788,"p":0.79,"g":0.545,"b":0.542},{"x":0.78,"m":0.74,"o":0.8,"p":0.836,"g":0.55,"b":0.54},{"x":0.86,"m":0.7,"o":0.76,"p":0.78,"g":0.54,"b":0.54},{"x":0.94,"m":0.685,"o":0.75,"p":0.77,"g":0.535,"b":0.54},{"x":1.03,"m":0.66,"o":0.728,"p":0.76,"g":0.53,"b":0.54},{"x":1.13,"m":0.62,"o":0.683,"p":0.7,"g":0.52,"b":0.535},{"x":1.2,"m":0.598,"o":0.67,"p":0.68,"g":0.512,"b":0.53},{"x":1.27,"m":0.58,"o":0.65,"p":0.66,"g":0.515,"b":0.53},{"x":1.36,"m":0.565,"o":0.63,"p":0.65,"g":0.52,"b":0.53},{"x":1.43,"m":0.555,"o":0.6,"p":0.63,"g":0.53,"b":0.53},{"x":1.5,"m":0.545,"o":0.585,"p":0.62,"g":0.53,"b":0.53}],
"dR":[{"x":-1.5,"m":0.56,"o":0.668,"p":0.704,"g":0.56,"b":0.572},{"x":-1.3,"m":0.56,"o":0.68,"p":0.716,"g":0.572,"b":0.572},{"x":-1.1,"m":0.56,"o":0.668,"p":0.776,"g":0.584,"b":0.572},{"x":-0.9,"m":0.555,"o":0.665,"p":0.78,"g":0.584,"b":0.572},{"x":-0.7,"m":0.54,"o":0.66,"p":0.79,"g":0.584,"b":0.575},{"x":-0.55,"m":0.56,"o":0.656,"p":0.824,"g":0.584,"b":0.584},{"x":-0.45,"m":0.548,"o":0.65,"p":0.82,"g":0.584,"b":0.584},{"x":-0.35,"m":0.56,"o":0.644,"p":0.79,"g":0.584,"b":0.584},{"x":-0.28,"m":0.56,"o":0.632,"p":0.75,"g":0.575,"b":0.575},{"x":-0.2,"m":0.5,"o":0.6,"p":0.66,"g":0.52,"b":0.52},{"x":-0.13,"m":0.4,"o":0.48,"p":0.48,"g":0.38,"b":0.38},{"x":-0.06,"m":0.3,"o":0.33,"p":0.3,"g":0.27,"b":0.28},{"x":-0.02,"m":0.25,"o":0.25,"p":0.24,"g":0.225,"b":0.235},{"x":0.02,"m":0.24,"o":0.235,"p":0.224,"g":0.212,"b":0.224},{"x":0.08,"m":0.26,"o":0.27,"p":0.28,"g":0.27,"b":0.27},{"x":0.2,"m":0.33,"o":0.35,"p":0.38,"g":0.33,"b":0.33},{"x":0.35,"m":0.38,"o":0.4,"p":0.42,"g":0.37,"b":0.37},{"x":0.5,"m":0.392,"o":0.39,"p":0.44,"g":0.385,"b":0.39},{"x":0.65,"m":0.4,"o":0.43,"p":0.47,"g":0.38,"b":0.392},{"x":0.8,"m":0.41,"o":0.44,"p":0.43,"g":0.37,"b":0.392},{"x":1,"m":0.428,"o":0.452,"p":0.45,"g":0.365,"b":0.392},{"x":1.2,"m":0.45,"o":0.46,"p":0.464,"g":0.35,"b":0.385},{"x":1.35,"m":0.47,"o":0.5,"p":0.44,"g":0.345,"b":0.38},{"x":1.5,"m":0.452,"o":0.476,"p":0.416,"g":0.332,"b":0.38}],
"eL":[{"x":-1.5,"m":0.658,"o":0.595,"p":0.522,"g":0.476,"b":0.458},{"x":-1.35,"m":0.67,"o":0.63,"p":0.55,"g":0.467,"b":0.467},{"x":-1.2,"m":0.66,"o":0.64,"p":0.56,"g":0.48,"b":0.476},{"x":-1.05,"m":0.66,"o":0.6,"p":0.57,"g":0.485,"b":0.48},{"x":-0.9,"m":0.67,"o":0.64,"p":0.58,"g":0.49,"b":0.485},{"x":-0.7,"m":0.67,"o":0.66,"p":0.6,"g":0.495,"b":0.485},{"x":-0.5,"m":0.66,"o":0.63,"p":0.6,"g":0.5,"b":0.485},{"x":-0.4,"m":0.64,"o":0.62,"p":0.58,"g":0.51,"b":0.5},{"x":-0.3,"m":0.64,"o":0.68,"p":0.6,"g":0.52,"b":0.51},{"x":-0.22,"m":0.676,"o":0.7,"p":0.64,"g":0.53,"b":0.52},{"x":-0.15,"m":0.66,"o":0.66,"p":0.63,"g":0.54,"b":0.53},{"x":-0.08,"m":0.6,"o":0.61,"p":0.585,"g":0.555,"b":0.54},{"x":-0.03,"m":0.585,"o":0.59,"p":0.58,"g":0.57,"b":0.55},{"x":0.02,"m":0.62,"o":0.62,"p":0.61,"g":0.6,"b":0.557},{"x":0.06,"m":0.85,"o":0.9,"p":0.86,"g":0.595,"b":0.55},{"x":0.09,"m":1.0,"o":1.13,"p":1.08,"g":0.585,"b":0.54},{"x":0.12,"m":1.083,"o":1.21,"p":1.147,"g":0.584,"b":0.539},{"x":0.16,"m":0.93,"o":1.05,"p":1.0,"g":0.59,"b":0.53},{"x":0.21,"m":0.702,"o":0.729,"p":0.729,"g":0.59,"b":0.525},{"x":0.25,"m":0.82,"o":0.88,"p":0.85,"g":0.6,"b":0.52},{"x":0.3,"m":0.957,"o":1.029,"p":0.993,"g":0.593,"b":0.52},{"x":0.35,"m":0.86,"o":0.9,"p":0.88,"g":0.58,"b":0.515},{"x":0.39,"m":0.743,"o":0.747,"p":0.75,"g":0.566,"b":0.51},{"x":0.46,"m":0.83,"o":0.884,"p":0.893,"g":0.56,"b":0.505},{"x":0.53,"m":0.756,"o":0.774,"p":0.78,"g":0.557,"b":0.502},{"x":0.62,"m":0.803,"o":0.839,"p":0.865,"g":0.557,"b":0.51},{"x":0.69,"m":0.74,"o":0.76,"p":0.77,"g":0.555,"b":0.52},{"x":0.8,"m":0.73,"o":0.793,"p":0.79,"g":0.548,"b":0.53},{"x":0.88,"m":0.71,"o":0.76,"p":0.8,"g":0.545,"b":0.535},{"x":0.94,"m":0.71,"o":0.75,"p":0.784,"g":0.545,"b":0.539},{"x":1.08,"m":0.71,"o":0.729,"p":0.747,"g":0.539,"b":0.545},{"x":1.2,"m":0.7,"o":0.725,"p":0.73,"g":0.53,"b":0.548},{"x":1.27,"m":0.693,"o":0.72,"p":0.711,"g":0.52,"b":0.555},{"x":1.4,"m":0.67,"o":0.695,"p":0.7,"g":0.53,"b":0.53},{"x":1.5,"m":0.66,"o":0.684,"p":0.684,"g":0.529,"b":0.539}],
"eR":[{"x":-1.5,"m":0.649,"o":0.722,"p":0.713,"g":0.549,"b":0.54},{"x":-1.4,"m":0.676,"o":0.686,"p":0.749,"g":0.55,"b":0.54},{"x":-1.3,"m":0.622,"o":0.704,"p":0.76,"g":0.558,"b":0.54},{"x":-1.15,"m":0.64,"o":0.713,"p":0.776,"g":0.54,"b":0.53},{"x":-1,"m":0.64,"o":0.713,"p":0.776,"g":0.549,"b":0.522},{"x":-0.8,"m":0.645,"o":0.713,"p":0.785,"g":0.555,"b":0.53},{"x":-0.6,"m":0.649,"o":0.72,"p":0.8,"g":0.56,"b":0.522},{"x":-0.45,"m":0.72,"o":0.722,"p":0.849,"g":0.565,"b":0.54},{"x":-0.4,"m":0.658,"o":0.722,"p":0.82,"g":0.567,"b":0.54},{"x":-0.33,"m":0.66,"o":0.725,"p":0.82,"g":0.57,"b":0.545},{"x":-0.2,"m":0.667,"o":0.74,"p":0.79,"g":0.59,"b":0.56},{"x":-0.1,"m":0.65,"o":0.72,"p":0.745,"g":0.56,"b":0.535},{"x":-0.04,"m":0.6,"o":0.63,"p":0.64,"g":0.51,"b":0.47},{"x":0,"m":0.567,"o":0.604,"p":0.622,"g":0.476,"b":0.449},{"x":0.04,"m":0.6,"o":0.64,"p":0.64,"g":0.49,"b":0.455},{"x":0.1,"m":0.658,"o":0.67,"p":0.655,"g":0.52,"b":0.5},{"x":0.2,"m":0.658,"o":0.65,"p":0.65,"g":0.512,"b":0.51},{"x":0.4,"m":0.667,"o":0.667,"p":0.66,"g":0.505,"b":0.49},{"x":0.55,"m":0.68,"o":0.67,"p":0.67,"g":0.5,"b":0.49},{"x":0.7,"m":0.665,"o":0.65,"p":0.64,"g":0.5,"b":0.48},{"x":0.9,"m":0.66,"o":0.625,"p":0.62,"g":0.49,"b":0.477},{"x":1.1,"m":0.66,"o":0.6,"p":0.6,"g":0.484,"b":0.475},{"x":1.3,"m":0.69,"o":0.62,"p":0.58,"g":0.475,"b":0.49},{"x":1.4,"m":0.67,"o":0.6,"p":0.531,"g":0.47,"b":0.475},{"x":1.5,"m":0.667,"o":0.613,"p":0.54,"g":0.458,"b":0.467}],
"fL":[{"x":-1.5,"m":0.348,"o":0.313,"p":0.313,"g":0.289,"b":0.325},{"x":-1.3,"m":0.37,"o":0.345,"p":0.33,"g":0.289,"b":0.313},{"x":-1.1,"m":0.365,"o":0.36,"p":0.345,"g":0.3,"b":0.313},{"x":-0.9,"m":0.36,"o":0.36,"p":0.355,"g":0.3,"b":0.325},{"x":-0.7,"m":0.39,"o":0.4,"p":0.36,"g":0.301,"b":0.33},{"x":-0.5,"m":0.375,"o":0.375,"p":0.36,"g":0.3,"b":0.336},{"x":-0.4,"m":0.36,"o":0.36,"p":0.35,"g":0.305,"b":0.33},{"x":-0.3,"m":0.29,"o":0.336,"p":0.32,"g":0.31,"b":0.32},{"x":-0.2,"m":0.39,"o":0.36,"p":0.33,"g":0.34,"b":0.336},{"x":-0.12,"m":0.36,"o":0.385,"p":0.38,"g":0.36,"b":0.35},{"x":-0.06,"m":0.5,"o":0.4,"p":0.4,"g":0.39,"b":0.365},{"x":-0.02,"m":0.788,"o":0.609,"p":0.609,"g":0.41,"b":0.38},{"x":0.02,"m":0.6,"o":0.57,"p":0.57,"g":0.44,"b":0.39},{"x":0.07,"m":0.95,"o":1.0,"p":0.95,"g":0.5,"b":0.4},{"x":0.12,"m":1.11,"o":1.266,"p":1.17,"g":0.46,"b":0.4},{"x":0.16,"m":0.8,"o":0.85,"p":0.8,"g":0.42,"b":0.4},{"x":0.21,"m":0.4,"o":0.394,"p":0.394,"g":0.394,"b":0.405},{"x":0.26,"m":0.65,"o":0.7,"p":0.68,"g":0.42,"b":0.41},{"x":0.31,"m":0.87,"o":0.979,"p":0.931,"g":0.418,"b":0.41},{"x":0.35,"m":0.65,"o":0.7,"p":0.68,"g":0.41,"b":0.41},{"x":0.38,"m":0.42,"o":0.418,"p":0.418,"g":0.4,"b":0.41},{"x":0.43,"m":0.56,"o":0.6,"p":0.62,"g":0.4,"b":0.405},{"x":0.47,"m":0.657,"o":0.728,"p":0.764,"g":0.4,"b":0.405},{"x":0.51,"m":0.55,"o":0.57,"p":0.6,"g":0.4,"b":0.405},{"x":0.55,"m":0.43,"o":0.43,"p":0.43,"g":0.4,"b":0.405},{"x":0.6,"m":0.52,"o":0.56,"p":0.57,"g":0.4,"b":0.405},{"x":0.645,"m":0.585,"o":0.657,"p":0.657,"g":0.4,"b":0.41},{"x":0.68,"m":0.5,"o":0.53,"p":0.54,"g":0.4,"b":0.41},{"x":0.714,"m":0.44,"o":0.44,"p":0.44,"g":0.4,"b":0.41},{"x":0.76,"m":0.51,"o":0.55,"p":0.55,"g":0.4,"b":0.41},{"x":0.806,"m":0.55,"o":0.609,"p":0.609,"g":0.4,"b":0.412},{"x":0.84,"m":0.49,"o":0.52,"p":0.52,"g":0.4,"b":0.412},{"x":0.88,"m":0.454,"o":0.454,"p":0.454,"g":0.4,"b":0.412},{"x":0.93,"m":0.51,"o":0.54,"p":0.54,"g":0.4,"b":0.415},{"x":0.98,"m":0.55,"o":0.59,"p":0.59,"g":0.4,"b":0.418},{"x":1.02,"m":0.5,"o":0.52,"p":0.52,"g":0.4,"b":0.418},{"x":1.06,"m":0.46,"o":0.46,"p":0.46,"g":0.4,"b":0.418},{"x":1.1,"m":0.5,"o":0.51,"p":0.51,"g":0.395,"b":0.418},{"x":1.15,"m":0.52,"o":0.549,"p":0.549,"g":0.39,"b":0.418},{"x":1.19,"m":0.49,"o":0.51,"p":0.51,"g":0.39,"b":0.418},{"x":1.23,"m":0.468,"o":0.468,"p":0.468,"g":0.39,"b":0.42},{"x":1.27,"m":0.49,"o":0.5,"p":0.5,"g":0.385,"b":0.425},{"x":1.31,"m":0.5,"o":0.535,"p":0.525,"g":0.385,"b":0.43},{"x":1.35,"m":0.49,"o":0.51,"p":0.5,"g":0.385,"b":0.43},{"x":1.39,"m":0.478,"o":0.478,"p":0.478,"g":0.38,"b":0.435},{"x":1.44,"m":0.48,"o":0.51,"p":0.49,"g":0.375,"b":0.44},{"x":1.5,"m":0.48,"o":0.537,"p":0.5,"g":0.37,"b":0.45}],
"fR":[{"x":-1.5,"m":0.552,"o":0.563,"p":0.575,"g":0.396,"b":0.408},{"x":-1.35,"m":0.575,"o":0.575,"p":0.587,"g":0.408,"b":0.42},{"x":-1.2,"m":0.54,"o":0.563,"p":0.575,"g":0.42,"b":0.427},{"x":-1,"m":0.552,"o":0.587,"p":0.587,"g":0.415,"b":0.42},{"x":-0.8,"m":0.563,"o":0.587,"p":0.599,"g":0.42,"b":0.42},{"x":-0.6,"m":0.575,"o":0.587,"p":0.635,"g":0.42,"b":0.427},{"x":-0.5,"m":0.57,"o":0.58,"p":0.62,"g":0.425,"b":0.43},{"x":-0.4,"m":0.563,"o":0.587,"p":0.611,"g":0.432,"b":0.444},{"x":-0.3,"m":0.56,"o":0.57,"p":0.59,"g":0.444,"b":0.444},{"x":-0.2,"m":0.528,"o":0.55,"p":0.55,"g":0.42,"b":0.42},{"x":-0.12,"m":0.48,"o":0.5,"p":0.48,"g":0.36,"b":0.36},{"x":-0.06,"m":0.38,"o":0.38,"p":0.38,"g":0.29,"b":0.3},{"x":0,"m":0.325,"o":0.313,"p":0.313,"g":0.25,"b":0.26},{"x":0.05,"m":0.36,"o":0.36,"p":0.38,"g":0.245,"b":0.27},{"x":0.15,"m":0.39,"o":0.39,"p":0.408,"g":0.3,"b":0.31},{"x":0.3,"m":0.396,"o":0.408,"p":0.4,"g":0.313,"b":0.33},{"x":0.5,"m":0.39,"o":0.396,"p":0.384,"g":0.313,"b":0.336},{"x":0.7,"m":0.384,"o":0.384,"p":0.384,"g":0.325,"b":0.336},{"x":0.9,"m":0.36,"o":0.375,"p":0.372,"g":0.313,"b":0.336},{"x":1.1,"m":0.372,"o":0.36,"p":0.348,"g":0.308,"b":0.348},{"x":1.3,"m":0.348,"o":0.336,"p":0.325,"g":0.305,"b":0.336},{"x":1.4,"m":0.34,"o":0.384,"p":0.32,"g":0.3,"b":0.325},{"x":1.5,"m":0.313,"o":0.325,"p":0.313,"g":0.289,"b":0.313}]
}
}
